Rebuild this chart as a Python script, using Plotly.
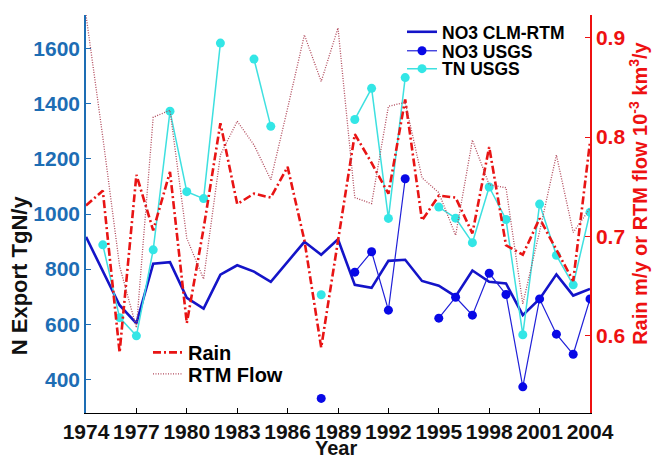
import plotly.graph_objects as go

years = [1974, 1975, 1976, 1977, 1978, 1979, 1980, 1981, 1982, 1983, 1984, 1985,
         1986, 1987, 1988, 1989, 1990, 1991, 1992, 1993, 1994, 1995, 1996, 1997,
         1998, 1999, 2000, 2001, 2002, 2003, 2004]

no3_clm_rtm = [917, 790, 669, 603, 820, 825, 696, 657, 780, 814, 791, 754,
               826, 899, 852, 908, 743, 732, 830, 834, 757, 740, 701, 795,
               754, 748, 633, 692, 781, 704, 728]

no3_usgs = [None, None, None, None, None, None, None, None, None, None, None, None,
            None, None, 331, None, 789, 863, 651, 1128, None, 622, 698, 633,
            785, 708, 373, 692, 564, 491, 692]

tn_usgs = [None, 888, 624, 558, 870, 1373, 1081, 1056, 1620, None, 1562, 1318,
           None, None, 707, None, 1343, 1456, 984, 1495, None, 1025, 985, 896,
           1098, 980, 562, 1036, 850, 743, 1006]

rain = [0.731, 0.746, 0.583, 0.762, 0.706, 0.765, 0.6125, 0.708, 0.814, 0.7325, 0.743, 0.739,
        0.770, 0.696, 0.588, 0.696, 0.803, 0.774, 0.743, 0.838, 0.716, 0.741, 0.739, 0.703,
        0.790, 0.691, 0.6815, 0.718, 0.687, 0.655, 0.795]

rtm_flow = [0.923, 0.800, 0.670, 0.608, 0.820, 0.827, 0.698, 0.657, 0.782, 0.816, 0.792, 0.757,
            0.829, 0.903, 0.856, 0.910, 0.739, 0.733, 0.831, 0.835, 0.759, 0.744, 0.701, 0.797,
            0.752, 0.749, 0.632, 0.705, 0.782, 0.704, 0.728]

x_ticks = [1974, 1977, 1980, 1983, 1986, 1989, 1992, 1995, 1998, 2001, 2004]
left_ticks = [400, 600, 800, 1000, 1200, 1400, 1600]
right_ticks = [0.6, 0.7, 0.8, 0.9]

FONT = "Liberation Sans, Arial, Helvetica, sans-serif"
BLUE_AX = "#1d6db4"
RED_AX = "#ee1111"

fig = go.Figure()

fig.add_trace(go.Scatter(x=years, y=no3_clm_rtm, name="NO3 CLM-RTM", mode="lines",
                         line=dict(color="#1414c8", width=2.6), legend="legend"))
fig.add_trace(go.Scatter(x=years, y=no3_usgs, name="NO3 USGS", mode="lines+markers",
                         line=dict(color="#2020d8", width=1.2),
                         marker=dict(color="#0808e6", size=9), legend="legend2"))
fig.add_trace(go.Scatter(x=years, y=tn_usgs, name="TN USGS", mode="lines+markers",
                         line=dict(color="#3ee0e0", width=1.5),
                         marker=dict(color="#33e6e6", size=9), legend="legend3"))
fig.add_trace(go.Scatter(x=years, y=rain, name="Rain", mode="lines", yaxis="y2",
                         line=dict(color="#e81414", width=2.6, dash="8px,3px,2px,3px"),
                         legend="legend4"))
fig.add_trace(go.Scatter(x=years, y=rtm_flow, name="RTM Flow", mode="lines", yaxis="y2",
                         line=dict(color="#b0485a", width=1.3, dash="1px,1.5px"),
                         legend="legend5"))

def leg(x, y, size):
    return dict(x=x, y=y, xanchor="left", yanchor="middle", bgcolor="rgba(0,0,0,0)",
                borderwidth=0, font=dict(family=FONT, size=size, color="black", weight="bold"))

fig.update_layout(
    width=652, height=455,
    margin=dict(l=86, r=62, t=15, b=33),
    paper_bgcolor="white", plot_bgcolor="white",
    font=dict(family=FONT),
    xaxis=dict(range=[1974, 2004], tickvals=x_ticks, ticks="inside", ticklen=5,
               tickcolor="black", showline=True, linecolor="black", linewidth=1.2,
               showgrid=False, zeroline=False,
               tickfont=dict(family=FONT, size=21, color="#111111", weight="bold")),
    yaxis=dict(range=[278, 1722], tickvals=left_ticks, ticks="inside", ticklen=5,
               tickcolor=BLUE_AX, showline=True, linecolor=BLUE_AX, linewidth=1.5,
               showgrid=False, zeroline=False,
               tickfont=dict(family=FONT, size=21, color=BLUE_AX, weight="bold")),
    yaxis2=dict(range=[0.522, 0.923], tickvals=right_ticks, overlaying="y", side="right",
                ticks="inside", ticklen=5, tickcolor=RED_AX, showline=True,
                linecolor=RED_AX, linewidth=1.5, showgrid=False, zeroline=False,
                tickformat=".1f",
                tickfont=dict(family=FONT, size=21, color=RED_AX, weight="bold")),
    legend=leg(0.627, 0.9575, 17.5),
    legend2=leg(0.627, 0.9098, 17.5),
    legend3=leg(0.627, 0.8649, 17.5),
    legend4=leg(0.123, 0.1523, 20),
    legend5=leg(0.123, 0.0983, 20),
    showlegend=True,
    annotations=[
        dict(text="Year", xref="paper", yref="paper", x=0.496, y=-0.088,
             xanchor="center", yanchor="middle", showarrow=False,
             font=dict(family=FONT, size=20, color="#111111", weight="bold")),
        dict(text="N Export TgN/y", xref="paper", yref="paper", x=-0.133, y=0.346,
             xanchor="center", yanchor="middle", textangle=-90, showarrow=False,
             font=dict(family=FONT, size=22, color="#111111", weight="bold")),
        dict(text="Rain m/y or RTM flow 10<sup>-3</sup> km<sup>3</sup>/y", xref="paper",
             yref="paper", x=1.096, y=0.5516, xanchor="center", yanchor="middle",
             textangle=-90, showarrow=False,
             font=dict(family=FONT, size=20, color=RED_AX, weight="bold")),
    ],
)

fig.write_html("out.html")
